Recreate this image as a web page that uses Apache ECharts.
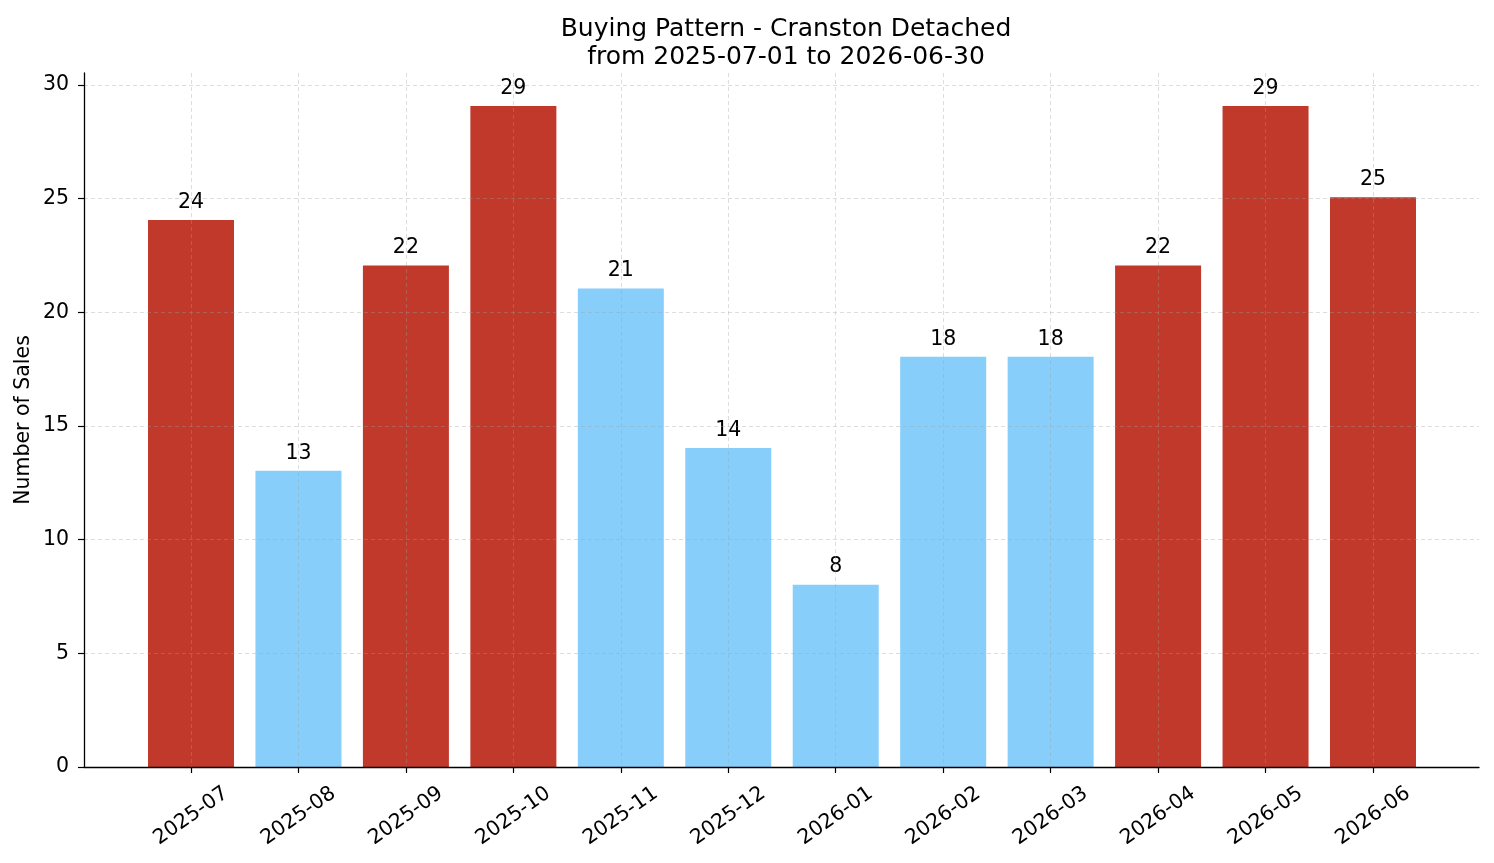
<!DOCTYPE html>
<html>
<head>
<meta charset="utf-8">
<script src="https://cdn.jsdelivr.net/npm/echarts@6/dist/echarts.min.js"></script>
<style>
    html, body { margin: 0; padding: 0; background: #fff; }
    #chart { width: 1494px; height: 863px; }
</style>
</head>
<body>
<div id="chart"></div>
<script>
    // data
    const months = ['2025-07', '2025-08', '2025-09', '2025-10', '2025-11', '2025-12',
                    '2026-01', '2026-02', '2026-03', '2026-04', '2026-05', '2026-06'];
    const sales = [24, 13, 22, 29, 21, 14, 8, 18, 18, 22, 29, 25];
    const yTicks = [0, 5, 10, 15, 20, 25, 30];

    const RED = '#c0392b';
    const BLUE = '#87cefa';
    const FONT = 'DejaVu Sans';

    // busy months (above the median) are red, quiet ones blue
    let sorted = sales.slice().sort((a, b) => a - b);
    let median = (sorted[5] + sorted[6]) / 2;

    let chart = echarts.init(document.getElementById('chart'));

    let gridLine = {
        show: true,
        lineStyle: { color: 'rgba(160,160,160,0.45)', width: 0.8, type: [4, 3] }
    };

    let option = {
        backgroundColor: '#fff',
        animation: false,
        title: {
            text: 'Buying Pattern - Cranston Detached\nfrom 2025-07-01 to 2026-06-30',
            left: 781,   // centred over the plot area, not the page
            textAlign: 'center',
            top: 10,
            textStyle: { fontFamily: FONT, fontSize: 25, fontWeight: 'normal', color: '#000', lineHeight: 28 }
        },
        grid: [
            // spines
            { left: 84, right: 15, top: 73, bottom: 96 },
            // horizontal grid + y ticks
            { left: 84, right: 15, top: 85, bottom: 96 },
            // bars, from first to last bar centre
            { left: 191, right: 121, top: 73, bottom: 96 }
        ],
        xAxis: [
            {
                gridIndex: 0, type: 'value', min: 0, max: 1, z: 6,
                axisLine: { show: true, lineStyle: { color: '#000', width: 1.3 } },
                axisTick: { show: false }, axisLabel: { show: false }, splitLine: { show: false }
            },
            {
                gridIndex: 1, type: 'value', min: 0, max: 1, show: false
            },
            {
                gridIndex: 2, type: 'value', min: 0, max: 11, interval: 1, z: 5,
                axisLine: { show: false },
                axisTick: { show: true, length: 6, lineStyle: { color: '#000', width: 1.2 } },
                axisLabel: {
                    rotate: 35, margin: 49, align: 'center', verticalAlign: 'middle',
                    fontFamily: FONT, fontSize: 20.5, color: '#000',
                    formatter: function (v) { return months[v] || ''; }
                },
                splitLine: gridLine
            }
        ],
        yAxis: [
            {
                gridIndex: 0, type: 'value', min: 0, max: 30.45, z: 6,
                name: 'Number of Sales', nameLocation: 'middle', nameGap: 50,
                nameTextStyle: { fontFamily: FONT, fontSize: 20.5, color: '#000' },
                axisLine: { show: true, lineStyle: { color: '#000', width: 1.3 } },
                axisTick: { show: false }, axisLabel: { show: false }, splitLine: { show: false }
            },
            {
                gridIndex: 1, type: 'value', min: yTicks[0], max: yTicks[yTicks.length - 1], interval: 5, z: 5,
                axisLine: { show: false },
                axisTick: { show: true, length: 6, lineStyle: { color: '#000', width: 1.2 } },
                axisLabel: { margin: 15, fontFamily: FONT, fontSize: 20.5, color: '#000' },
                splitLine: gridLine
            },
            {
                gridIndex: 2, type: 'value', min: 0, max: 30.45, show: false
            }
        ],
        series: [{
            type: 'bar',
            xAxisIndex: 2,
            yAxisIndex: 2,
            clip: false,
            barWidth: 86,
            data: sales.map((v, i) => ({
                value: [i, v],
                itemStyle: { color: v > median ? RED : BLUE }
            })),
            label: {
                show: true,
                position: 'top',
                distance: 7,
                fontFamily: FONT,
                fontSize: 20.5,
                color: '#000',
                formatter: p => p.value[1]
            }
        }]
    };

    chart.setOption(option);
</script>
</body>
</html>
